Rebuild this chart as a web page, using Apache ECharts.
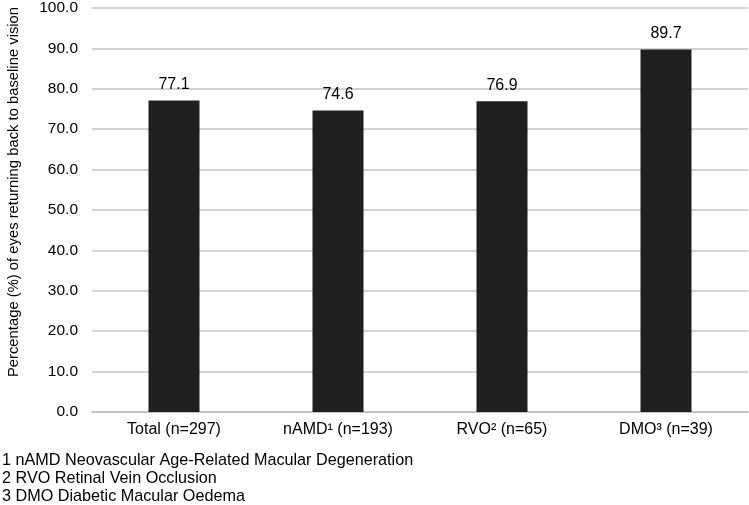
<!DOCTYPE html>
<html>
<head>
<meta charset="utf-8">
<script src="https://cdn.jsdelivr.net/npm/echarts@6/dist/echarts.min.js"></script>
<style>
html,body{margin:0;padding:0;background:#fff;}
#chart{width:749px;height:505px;}
</style>
</head>
<body>
<div id="chart"></div>
<script>
const categories = ['Total (n=297)', 'nAMD\u00b9 (n=193)', 'RVO\u00b2 (n=65)', 'DMO\u00b3 (n=39)'];
const values = [77.1, 74.6, 76.9, 89.7];
const yAxisTitle = 'Percentage (%) of eyes returning back to baseline vision';
const footnotes = [
  '1 nAMD Neovascular Age-Related Macular Degeneration',
  '2 RVO Retinal Vein Occlusion',
  '3 DMO Diabetic Macular Oedema'
];

const chart = echarts.init(document.getElementById('chart'));
const font = 'Liberation Sans, Arial, sans-serif';
chart.setOption({
  animation: false,
  grid: { left: 92, right: 1, top: 7, bottom: 93 },
  xAxis: {
    type: 'category',
    data: categories,
    axisLine: { lineStyle: { color: '#bfbfbf', width: 1.5 } },
    axisTick: { show: false },
    axisLabel: { color: '#000', fontSize: 16, fontFamily: font, margin: 10 }
  },
  yAxis: {
    type: 'value',
    min: 0, max: 100, interval: 10,
    axisLine: { show: false },
    axisTick: { show: false },
    splitLine: { lineStyle: { color: '#c4c4c4', width: 1.5 } },
    axisLabel: { color: '#000', fontSize: 15.5, fontFamily: font, margin: 14,
      formatter: v => v.toFixed(1) }
  },
  series: [{
    type: 'bar',
    data: values,
    barWidth: 51,
    itemStyle: { color: '#1f1f1f' },
    label: { show: true, position: 'top', distance: 8, color: '#000', fontSize: 16,
      fontFamily: font, formatter: p => p.value.toFixed(1) }
  }],
  graphic: [
    { type: 'text', x: 14, y: 192, rotation: Math.PI / 2,
      style: { text: yAxisTitle, fill: '#000', font: '14.8px ' + font, align: 'center', verticalAlign: 'middle' } },
    { type: 'text', left: 2, top: 452,
      style: { text: footnotes.join('\n'), fill: '#000', font: '16.2px ' + font, lineHeight: 18 } }
  ]
});
</script>
</body>
</html>
